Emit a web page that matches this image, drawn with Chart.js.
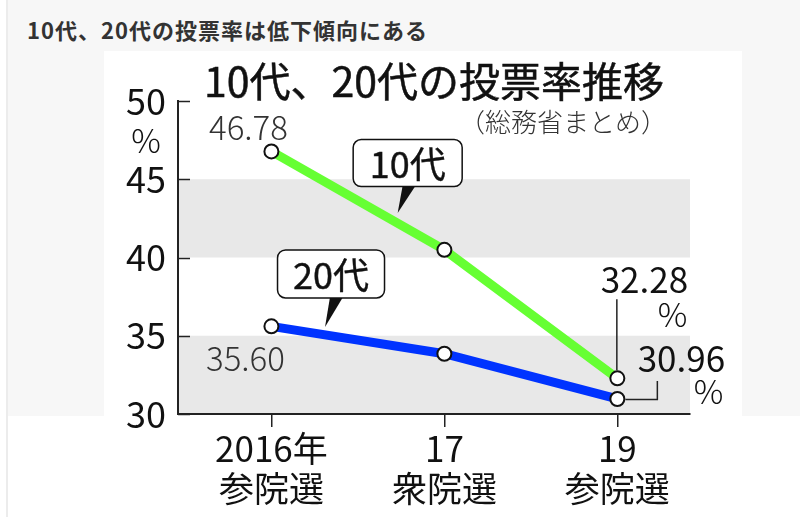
<!DOCTYPE html>
<html lang="ja">
<head>
<meta charset="utf-8">
<script src="https://cdn.jsdelivr.net/npm/chart.js@4.4.1/dist/chart.umd.min.js"></script>
<style>
body { margin: 0; background: #fff; font-family: "Noto Sans CJK JP", sans-serif; }
#waku { position: absolute; left: 6px; top: 0; width: 794px; height: 517px; border-left: 2px solid #ececec; }
#haikei { position: absolute; left: 8px; top: 0; right: 0; height: 416px; background: #f7f7f7; }
#midashi { position: absolute; left: 27px; top: 13px; margin: 0; font-size: 22px; font-weight: 700; color: #333; letter-spacing: 1px; }
#zu { position: absolute; left: 104px; top: 51px; width: 638px; height: 466px; background: #fff; }
</style>
</head>
<body>
<div id="waku"></div>
<div id="haikei"></div>
<h1 id="midashi">10代、20代の投票率は低下傾向にある</h1>
<div id="zu"><canvas id="grafico" width="638" height="466"></canvas></div>
<script>
// データ
const senkyo = ['2016年', '17', '19']
const shurui = ['参院選', '衆院選', '参院選']
const ritsu10 = [46.78, 40.49, 32.28]
const ritsu20 = [35.60, 33.85, 30.96]
const yMemori = [30, 35, 40, 45, 50]
const obi = [[30, 35], [40, 45]]

const FONT = '"Noto Sans CJK JP", "Noto Sans", sans-serif'

const tensu = arr => arr.map((v, i) => ({ x: i, y: v }))

// 少し太めに見せる文字
const futoText = (ctx, text, x, y, w) => {
  ctx.fillText(text, x, y)
  ctx.lineWidth = w
  ctx.strokeStyle = ctx.fillStyle
  ctx.strokeText(text, x, y)
}

// 背景の帯と内側の目盛り
const obiPlugin = {
  id: 'obi',
  beforeDraw(chart) {
    const { ctx, chartArea: { left, right }, scales: { y } } = chart
    ctx.save()
    ctx.fillStyle = '#e8e8e8'
    obi.forEach(([a, b]) => {
      const t = y.getPixelForValue(b)
      const u = y.getPixelForValue(a)
      ctx.fillRect(left, t, right - left, u - t)
    })
    ctx.restore()
  },
  beforeDatasetsDraw(chart) {
    const { ctx, chartArea: { left }, scales: { y } } = chart
    ctx.save()
    ctx.strokeStyle = '#222'
    ctx.lineWidth = 1.5
    yMemori.forEach(v => {
      const py = Math.round(y.getPixelForValue(v)) + 0.5
      ctx.beginPath()
      ctx.moveTo(left, py)
      ctx.lineTo(left + 12, py)
      ctx.stroke()
    })
    ctx.restore()
  }
}

// 吹き出し
const fukidashi = (ctx, tx, ty, dx, dy, w, h, text) => {
  const bx = tx + dx - w / 2
  const by = ty + dy - h / 2
  ctx.fillStyle = '#111'
  ctx.beginPath()
  ctx.moveTo(tx, ty)
  ctx.lineTo(tx + 5, by + h - 1)
  ctx.lineTo(tx + 18, by + h - 1)
  ctx.closePath()
  ctx.fill()
  ctx.beginPath()
  ctx.roundRect(bx, by, w, h, 8)
  ctx.fillStyle = '#fff'
  ctx.fill()
  ctx.lineWidth = 1.5
  ctx.strokeStyle = '#111'
  ctx.stroke()
  ctx.fillStyle = '#111'
  ctx.font = `400 36px ${FONT}`
  ctx.textAlign = 'center'
  ctx.textBaseline = 'middle'
  futoText(ctx, text, bx + w / 2, by + h / 2 + 1, 0.4)
}

const labelPlugin = {
  id: 'labels',
  afterDatasetsDraw(chart) {
    const { ctx, scales: { x, y } } = chart
    const p10 = chart.getDatasetMeta(0).data
    const p20 = chart.getDatasetMeta(1).data
    ctx.save()

    // タイトル
    ctx.fillStyle = '#111'
    ctx.textBaseline = 'middle'
    ctx.textAlign = 'left'
    ctx.font = `400 41px ${FONT}`
    futoText(ctx, '10代、20代の投票率推移', 100, 30, 0.5)
    ctx.fillStyle = '#333'
    ctx.font = `300 26px ${FONT}`
    ctx.fillText('（総務省まとめ）', 355, 71)

    // y軸の単位
    ctx.fillStyle = '#111'
    ctx.textAlign = 'center'
    ctx.font = `300 33px ${FONT}`
    ctx.fillText('%', 42, y.getPixelForValue(50) + 39)

    // 最初の値（灰色）
    ctx.fillStyle = '#333'
    ctx.font = `300 33px ${FONT}`
    ctx.fillText(ritsu10[0].toFixed(2), p10[0].x - 23, p10[0].y - 24)
    ctx.fillText(ritsu20[0].toFixed(2), p20[0].x - 26, p20[0].y + 32)

    // 最後の値（引き出し線つき）
    const a = p10[2]
    const b = p20[2]
    ctx.strokeStyle = '#222'
    ctx.lineWidth = 1.5
    ctx.beginPath()
    ctx.moveTo(a.x - 0.5, a.y - 8)
    ctx.lineTo(a.x - 0.5, a.y - 79)
    ctx.stroke()
    ctx.beginPath()
    ctx.moveTo(b.x + 8, b.y + 0.5)
    ctx.lineTo(b.x + 40, b.y + 0.5)
    ctx.lineTo(b.x + 40, b.y - 18)
    ctx.stroke()

    ctx.fillStyle = '#111'
    ctx.font = `400 35px ${FONT}`
    ctx.textAlign = 'center'
    ctx.fillText(ritsu10[2].toFixed(2), a.x + 27, a.y - 99)
    ctx.fillText(ritsu20[2].toFixed(2), b.x + 64, b.y - 40)
    ctx.textAlign = 'right'
    ctx.font = `300 33px ${FONT}`
    ctx.fillText('%', a.x + 70, a.y - 64)
    ctx.fillText('%', b.x + 106, b.y - 8)

    // 吹き出し
    fukidashi(ctx, x.getPixelForValue(0.73), y.getPixelForValue(42.84), 10, -50, 109, 47, '10代')
    fukidashi(ctx, x.getPixelForValue(0.31), y.getPixelForValue(35.56), 6, -53, 107, 48, '20代')

    ctx.restore()
  }
}

const ctx = document.getElementById('grafico')

const grafico = new Chart(ctx, {
  type: 'line',
  data: {
    datasets: [
      {
        label: '10代',
        data: tensu(ritsu10),
        borderColor: '#66ff33',
        borderWidth: 9,
        pointRadius: 7,
        pointBackgroundColor: '#fff',
        pointBorderColor: '#111',
        pointBorderWidth: 2,
        tension: 0
      },
      {
        label: '20代',
        data: tensu(ritsu20),
        borderColor: '#0033ff',
        borderWidth: 9,
        pointRadius: 7,
        pointBackgroundColor: '#fff',
        pointBorderColor: '#111',
        pointBorderWidth: 2,
        tension: 0
      }
    ]
  },
  options: {
    responsive: false,
    animation: false,
    layout: { padding: { top: 50, right: 52, left: 0, bottom: 0 } },
    plugins: { legend: { display: false }, tooltip: { enabled: false } },
    scales: {
      x: {
        type: 'linear',
        min: -0.54,
        max: 2.42,
        afterBuildTicks: s => { s.ticks = senkyo.map((_, i) => ({ value: i })) },
        afterFit: s => { s.height = 103 },
        ticks: {
          callback: v => [senkyo[v], shurui[v]],
          font: { family: FONT, size: 35, lineHeight: 1.14 },
          color: '#111',
          padding: 2,
          maxRotation: 0,
          autoSkip: false
        },
        grid: { drawOnChartArea: false, tickLength: 13, color: '#222', lineWidth: 1.5 },
        border: { color: '#222', width: 2 }
      },
      y: {
        min: 30,
        max: 50,
        afterBuildTicks: s => { s.ticks = yMemori.map(v => ({ value: v })) },
        afterFit: s => { s.width = 74 },
        ticks: { font: { family: FONT, size: 36 }, color: '#111', padding: 4 },
        grid: { display: false },
        border: { color: '#222', width: 2 }
      }
    }
  },
  plugins: [obiPlugin, labelPlugin]
})
</script>
</body>
</html>
